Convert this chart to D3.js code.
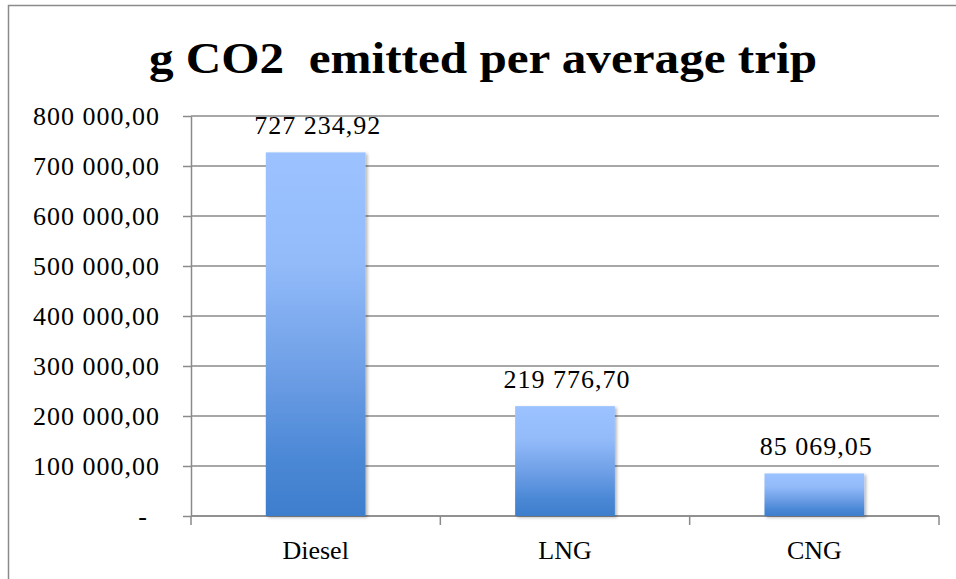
<!DOCTYPE html>
<html>
<head>
<meta charset="utf-8">
<script src="https://cdn.jsdelivr.net/npm/d3@7"></script>
<style>
  html, body { margin: 0; padding: 0; background: #fff; }
  svg { display: block; }
  text { font-family: "Liberation Serif", "Times New Roman", serif; fill: #000; }
</style>
</head>
<body>
<svg id="chart" width="956" height="579"></svg>
<script>
// Chart data
const title = "g CO2  emitted per average trip";
const categories = ["Diesel", "LNG", "CNG"];
const values = [727234.92, 219776.70, 85069.05];
const yTickValues = [0, 100000, 200000, 300000, 400000, 500000, 600000, 700000, 800000];

// Number format with space thousands separator and comma decimals
const locale = d3.formatLocale({ decimal: ",", thousands: " ", grouping: [3], currency: ["", ""] });
const fmt = locale.format(",.2f");
const tickFmt = v => v === 0 ? "-" : fmt(v);

const svg = d3.select("#chart");
const W = 956, H = 579;
const margin = { left: 191, right: 17, top: 116, bottom: 63 };
const gridColor = "#8a8a8a";

// Frame around the chart
svg.append("path")
  .attr("d", `M8.5,${H + 2}V5.5H${W + 2}`)
  .attr("fill", "none").attr("stroke", gridColor).attr("stroke-width", 1.5);

const x = d3.scaleBand().domain(categories)
  .range([margin.left, W - margin.right]).paddingInner(0.6).paddingOuter(0.3);
const y = d3.scaleLinear().domain([0, 800000]).range([H - margin.bottom, margin.top]);

// Bar gradient and soft shadow
const defs = svg.append("defs");
const grad = defs.append("linearGradient").attr("id", "barGrad")
  .attr("x1", 0).attr("y1", 0).attr("x2", 0).attr("y2", 1);
[[0, "#9cc3ff"], [0.3, "#93bbfa"], [0.6, "#6e9fe6"], [0.85, "#4a87d5"], [1, "#3e7ecc"]]
  .forEach(([o, c]) => grad.append("stop").attr("offset", o).attr("stop-color", c));
const shadow = defs.append("filter").attr("id", "shadow")
  .attr("x", "-10%").attr("y", "-10%").attr("width", "130%").attr("height", "130%");
shadow.append("feDropShadow").attr("dx", 2).attr("dy", 1.5)
  .attr("stdDeviation", 1.8).attr("flood-color", "#000").attr("flood-opacity", 0.28);

// Horizontal gridlines
svg.append("g").selectAll("line").data(yTickValues).join("line")
  .attr("x1", margin.left).attr("x2", W - margin.right)
  .attr("y1", d => y(d)).attr("y2", d => y(d))
  .attr("stroke", gridColor).attr("stroke-width", 1.5);

// Y axis
const yAxis = svg.append("g").attr("transform", `translate(${margin.left},0)`)
  .call(d3.axisLeft(y).tickValues(yTickValues).tickFormat(tickFmt).tickSizeInner(8).tickSizeOuter(0).tickPadding(23));
yAxis.select(".domain").attr("stroke", gridColor).attr("stroke-width", 1.5);
yAxis.selectAll(".tick line").attr("stroke", gridColor).attr("stroke-width", 1.5);
yAxis.selectAll(".tick text")
  .attr("font-family", "Liberation Serif, serif").attr("font-size", 26)
  .attr("letter-spacing", 1).attr("fill", "#000")
  .attr("dx", d => d === 0 ? -12 : 0);

// X axis with tick marks at the category boundaries
const xBase = y(0);
svg.append("line").attr("x1", margin.left).attr("x2", W - margin.right)
  .attr("y1", xBase).attr("y2", xBase).attr("stroke", gridColor).attr("stroke-width", 1.5);
const bounds = d3.range(categories.length + 1).map(i => margin.left + i * (W - margin.right - margin.left) / categories.length);
svg.append("g").selectAll("line").data(bounds).join("line")
  .attr("x1", d => d).attr("x2", d => d)
  .attr("y1", xBase).attr("y2", xBase + 9)
  .attr("stroke", gridColor).attr("stroke-width", 1.5);

// Bars
svg.append("g").selectAll("rect").data(values).join("rect")
  .attr("x", (d, i) => x(categories[i]))
  .attr("width", x.bandwidth())
  .attr("y", d => y(d))
  .attr("height", d => xBase - y(d))
  .attr("fill", "url(#barGrad)")
  .attr("filter", "url(#shadow)");

// Value labels
svg.append("g").selectAll("text").data(values).join("text")
  .attr("x", (d, i) => x(categories[i]) + x.bandwidth() / 2 + 2)
  .attr("y", d => y(d) - 18)
  .attr("text-anchor", "middle")
  .attr("font-size", 26).attr("letter-spacing", 1)
  .text(d => fmt(d));

// Category labels
svg.append("g").selectAll("text").data(categories).join("text")
  .attr("x", d => x(d) + x.bandwidth() / 2)
  .attr("y", xBase + 43)
  .attr("text-anchor", "middle")
  .attr("font-size", 26)
  .text(d => d);

// Title
svg.append("text")
  .attr("x", 483).attr("y", 73)
  .attr("text-anchor", "middle")
  .attr("font-size", 45).attr("font-weight", "bold")
  .attr("textLength", 668).attr("lengthAdjust", "spacingAndGlyphs")
  .style("white-space", "pre")
  .text(title);
</script>
</body>
</html>
